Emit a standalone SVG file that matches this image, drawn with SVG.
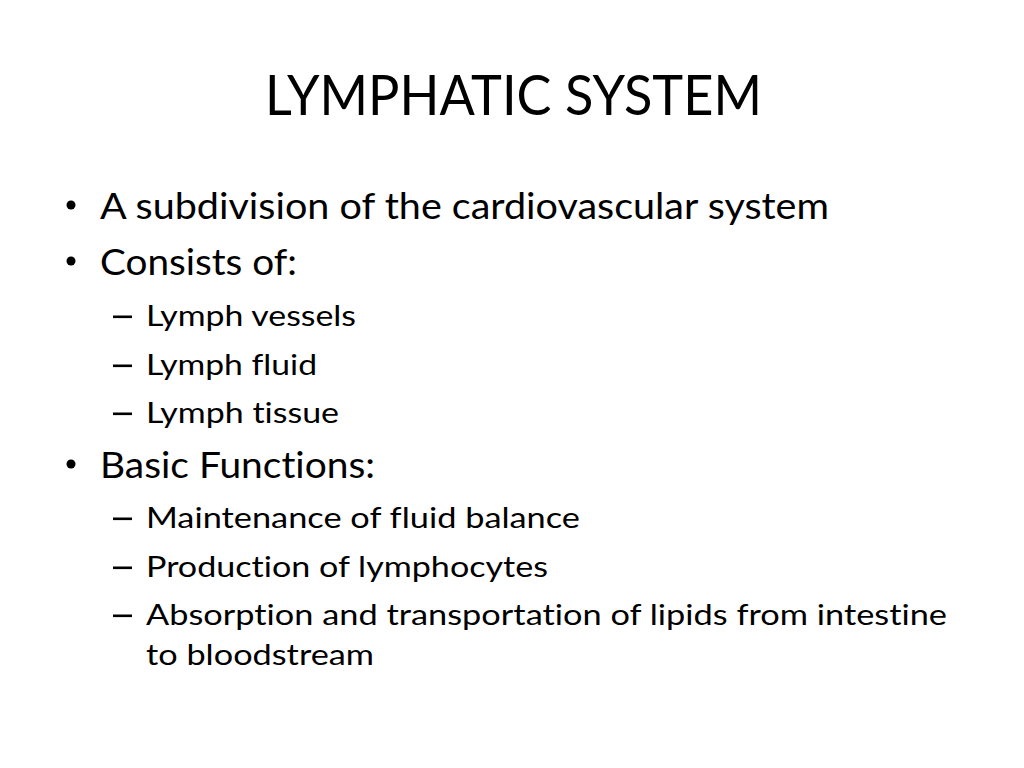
<svg xmlns="http://www.w3.org/2000/svg" width="1024" height="768" viewBox="0 0 1024 768">
<style>
.t{font-family:Lato,"Liberation Sans",sans-serif;fill:#000;font-variant-ligatures:none;font-feature-settings:"liga" 0,"clig" 0,"dlig" 0}
.title{font-size:57px}
.l1{font-size:36px}
.l2{font-size:29px}
.dot{fill:#000}
</style>
<rect width="1024" height="768" fill="#fff"/>
<g id="title"><text class="t title" x="265" y="115" textLength="497" lengthAdjust="spacingAndGlyphs">LYMPHATIC SYSTEM</text></g>
<g id="bullet1"><circle class="dot" cx="71" cy="205" r="4.5"/><text class="t l1" x="100" y="219" textLength="729" lengthAdjust="spacingAndGlyphs">A subdivision of the cardiovascular system</text></g>
<g id="bullet2"><circle class="dot" cx="71" cy="261" r="4.5"/><text class="t l1" x="100" y="275" textLength="197" lengthAdjust="spacingAndGlyphs">Consists of:</text></g>
<g id="sub1"><rect class="dot" x="113" y="315.5" width="19" height="2.6"/><text class="t l2" x="146" y="326" textLength="210" lengthAdjust="spacingAndGlyphs">Lymph vessels</text></g>
<g id="sub2"><rect class="dot" x="113" y="364.5" width="19" height="2.6"/><text class="t l2" x="146" y="375" textLength="171" lengthAdjust="spacingAndGlyphs">Lymph fluid</text></g>
<g id="sub3"><rect class="dot" x="113" y="412.5" width="19" height="2.6"/><text class="t l2" x="146" y="423" textLength="193" lengthAdjust="spacingAndGlyphs">Lymph tissue</text></g>
<g id="bullet3"><circle class="dot" cx="71" cy="464" r="4.5"/><text class="t l1" x="100" y="478" textLength="275" lengthAdjust="spacingAndGlyphs">Basic Functions:</text></g>
<g id="sub4"><rect class="dot" x="113" y="517.5" width="19" height="2.6"/><text class="t l2" x="146" y="528" textLength="434" lengthAdjust="spacingAndGlyphs">Maintenance of fluid balance</text></g>
<g id="sub5"><rect class="dot" x="113" y="566.5" width="19" height="2.6"/><text class="t l2" x="146" y="577" textLength="402" lengthAdjust="spacingAndGlyphs">Production of lymphocytes</text></g>
<g id="sub6"><rect class="dot" x="113" y="614.5" width="19" height="2.6"/><text class="t l2" x="146" y="625" textLength="801" lengthAdjust="spacingAndGlyphs">Absorption and transportation of lipids from intestine</text><text class="t l2" x="146" y="665" textLength="228" lengthAdjust="spacingAndGlyphs">to bloodstream</text></g>
</svg>
